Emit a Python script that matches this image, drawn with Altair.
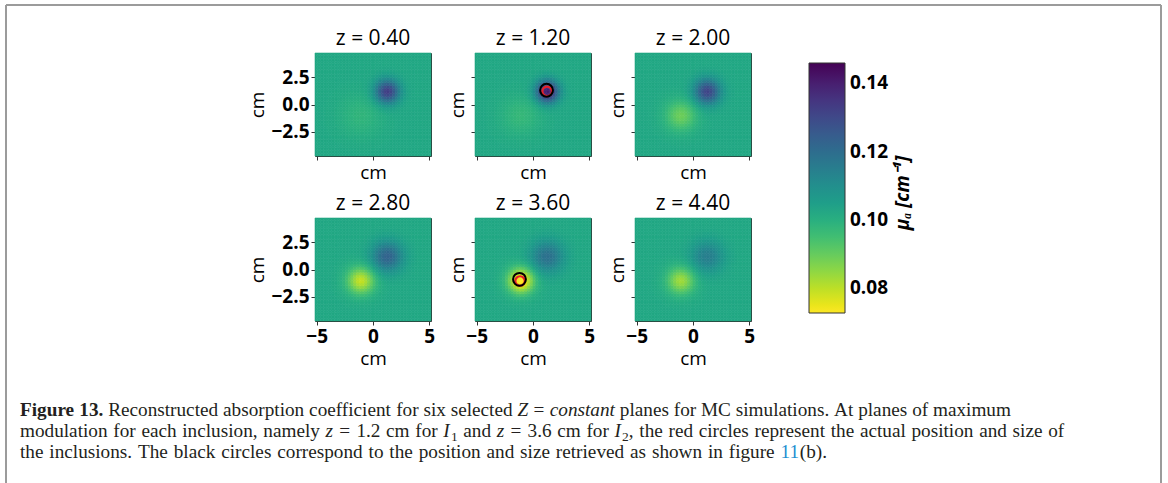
import altair as alt
import numpy as np
import pandas as pd

# ---------------- data ----------------
planes = ["z = 0.40", "z = 1.20", "z = 2.00", "z = 2.80", "z = 3.60", "z = 4.40"]
background_mua = 0.102
# inclusion I1 (absorbing, dark blob) and I2 (yellow blob) centres in cm
i1_x, i1_y = 1.3, 1.2
i2_x, i2_y = -1.05, -1.0
i1_peak = [0.133, 0.141, 0.131, 0.123, 0.119, 0.115]
i1_width = [0.75, 0.70, 0.80, 0.95, 1.00, 1.00]
i2_peak = [0.098, 0.097, 0.089, 0.079, 0.071, 0.083]
i2_width = [1.30, 1.20, 0.95, 0.85, 0.80, 0.85]

circle_plane = ["z = 1.20", "z = 1.20", "z = 3.60", "z = 3.60"]
circle_kind = ["actual", "retrieved", "actual", "retrieved"]
circle_x = [1.25, 1.20, -1.15, -1.20]
circle_y = [1.20, 1.30, -1.05, -0.90]

colorbar_ticks = [0.08, 0.10, 0.12, 0.14]
colorbar_title = "μₐ [cm⁻¹]"
x_ticks = [-5, 0, 5]
y_ticks = [-2.5, 0.0, 2.5]

# ---------------- build the reconstructed field ----------------
x_edges = np.linspace(-5.15, 5.15, 43)
y_edges = np.linspace(-4.7, 4.7, 39)
xc = (x_edges[:-1] + x_edges[1:]) / 2
yc = (y_edges[:-1] + y_edges[1:]) / 2
rows = []
for p, name in enumerate(planes):
    for ix in range(len(xc)):
        for iy in range(len(yc)):
            d1 = (xc[ix] - i1_x) ** 2 + (yc[iy] - i1_y) ** 2
            d2 = (xc[ix] - i2_x) ** 2 + (yc[iy] - i2_y) ** 2
            v = (background_mua
                 + (i1_peak[p] - background_mua) * np.exp(-d1 / (2 * i1_width[p] ** 2))
                 + (i2_peak[p] - background_mua) * np.exp(-d2 / (2 * i2_width[p] ** 2)))
            rows.append((name, x_edges[ix], x_edges[ix + 1], y_edges[iy], y_edges[iy + 1], v))
field = pd.DataFrame(rows, columns=["plane", "x0", "x1", "y0", "y1", "mua"])
circles = pd.DataFrame({"plane": circle_plane, "kind": circle_kind, "x": circle_x, "y": circle_y})

FONT = "Open Sans"
cscale = alt.Scale(scheme="viridis", reverse=True, domain=[0.0727, 0.146], clamp=True)
sscale = alt.Scale(scheme="viridis", reverse=True, domain=[0.0727, 0.146], clamp=True)
legend = alt.Legend(
    type="gradient", orient="none", legendX=494, legendY=10, direction="vertical",
    gradientLength=250, gradientThickness=36, values=colorbar_ticks, format=".2f",
    title=None,
    labelFont=FONT, labelFontSize=19, labelFontWeight="bold", labelColor="black",
    labelOffset=5, gradientStrokeColor="#333333", gradientStrokeWidth=1, padding=0,
)

xs = alt.Scale(domain=[-5.15, 5.15], nice=False, zero=False)
ys = alt.Scale(domain=[-4.7, 4.7], nice=False, zero=False)


def panel(i):
    r, c = divmod(i, 3)
    xaxis = alt.Axis(values=x_ticks, labels=(r == 1), title="cm", format="d")
    yaxis = alt.Axis(values=y_ticks, labels=(c == 0), title="cm", format=".1f")
    heat = alt.Chart(field).transform_filter(alt.datum.plane == planes[i]).mark_rect(strokeWidth=0.6).encode(
        x=alt.X("x0:Q", scale=xs, axis=xaxis),
        x2="x1:Q",
        y=alt.Y("y0:Q", scale=ys, axis=yaxis),
        y2="y1:Q",
        color=alt.Color("mua:Q", scale=cscale, legend=legend),
        stroke=alt.Stroke("mua:Q", scale=sscale, legend=None),
    )
    layers = [heat]
    if planes[i] in circle_plane:
        base = alt.Chart(circles).transform_filter(alt.datum.plane == planes[i])
        red = base.transform_filter(alt.datum.kind == "actual").mark_point(
            shape="circle", filled=False, color="#e8202a", strokeWidth=2.2, size=90, opacity=1
        ).encode(x=alt.X("x:Q", scale=xs), y=alt.Y("y:Q", scale=ys))
        black = base.transform_filter(alt.datum.kind == "retrieved").mark_point(
            shape="circle", filled=False, color="black", strokeWidth=2, size=165, opacity=1
        ).encode(x=alt.X("x:Q", scale=xs), y=alt.Y("y:Q", scale=ys))
        layers += [red, black]
    return alt.layer(*layers).properties(
        width=116, height=103,
        title=alt.TitleParams(planes[i], fontSize=21, font=FONT, fontWeight="normal", color="black", offset=4),
    )


# ---------------- caption (figure text) ----------------
caption_lines = [
    [("Figure 13.", "bold", 0), ("Reconstructed absorption coefficient for six selected", "reg", 0.25),
     ("Z", "ital", 0.25), ("=", "reg", 0.28), ("constant", "ital", 0.28),
     ("planes for MC simulations. At planes of maximum", "reg", 0.25)],
    [("modulation for each inclusion, namely", "reg", 0), ("z", "ital", 0.25), ("=", "reg", 0.28),
     ("1.2 cm for", "reg", 0.28), ("I", "ital", 0.25), ("1", "sub", 0.02), ("and", "reg", 0.25),
     ("z", "ital", 0.25), ("=", "reg", 0.28), ("3.6 cm for", "reg", 0.28), ("I", "ital", 0.25),
     ("2", "sub", 0.02), (", the red circles represent the actual position and size of", "reg", 0)],
    [("the inclusions. The black circles correspond to the position and size retrieved as shown in figure", "reg", 0),
     ("11", "blue", 0.25), ("(b).", "reg", 0)],
]
line_ends = [1011.0, 1065.0, 828.0]  # right end of each caption line in the picture

# Times-compatible advance widths (1/1000 em) used to chain the caption pieces
_reg = dict(zip("abcdefghijklmnopqrstuvwxyz",
                [444, 500, 444, 500, 444, 333, 500, 500, 278, 278, 500, 278, 778, 500, 500, 500, 500,
                 333, 389, 278, 500, 500, 722, 500, 500, 444]))
_reg.update(dict(zip("ABCDEFGHIJKLMNOPQRSTUVWXYZ",
                     [722, 667, 667, 722, 611, 556, 722, 722, 333, 389, 722, 611, 889, 722, 722, 556, 722,
                      667, 556, 611, 722, 722, 944, 722, 722, 611])))
_reg.update({" ": 250, ".": 250, ",": 250, "(": 333, ")": 333, "=": 564})
_reg.update({d: 500 for d in "0123456789"})
_bold = dict(_reg)
_bold.update({"F": 611, "u": 556, "r": 444, " ": 250})
_ital = dict(_reg)
_ital.update({"Z": 556, "z": 389, "I": 333, "a": 500, "n": 500})

CFONT = "Liberation Serif"


def units(text, style):
    tab = {"bold": _bold, "ital": _ital}.get(style, _reg)
    w = sum(tab.get(ch, 500) for ch in text) / 1000.0
    return w * (0.7 if style == "sub" else 1.0)


line1_units = sum(units(t, s) + sp for t, s, sp in caption_lines[0])
CSIZE = (line_ends[0] - 20) / line1_units

OX, OY = 315, 383  # origin of caption cell in page pixels
line_base = [416, 437, 458]
cap_rows = []
for li, segs in enumerate(caption_lines):
    natural = sum(units(t, s) + sp for t, s, sp in segs) * CSIZE
    n_words = sum(t.count(" ") for t, s, sp in segs) + len(segs) - 1
    extra = max(0.0, (line_ends[li] - 20 - natural) / max(n_words, 1))  # slightly looser word spacing
    cur = 20.0
    for t, s, sp in segs:
        if sp > 0:
            cur += sp * CSIZE + extra
        dy = 0.22 * CSIZE if s == "sub" else 0.0
        words = t.split(" ")
        for w in words:
            if w:
                cap_rows.append((w, s, cur - OX, line_base[li] + dy - OY))
                cur += units(w, s) * CSIZE
            cur += units(" ", s) * CSIZE + extra
        cur -= units(" ", s) * CSIZE + extra
cap = pd.DataFrame(cap_rows, columns=["t", "s", "px", "py"])


def cap_layer(style, **kw):
    kw.setdefault("fontSize", CSIZE)
    return alt.Chart(cap).transform_filter(alt.datum.s == style).mark_text(
        align="left", baseline="alphabetic", font=CFONT, **kw
    ).encode(x=alt.X("px:Q", scale=None), y=alt.Y("py:Q", scale=None), text="t:N")


frame_color = "#9b9b9b"
one = pd.DataFrame({"a": [0]})
top_line = alt.Chart(one).mark_rule(color=frame_color, strokeWidth=2).encode(
    x=alt.value(6 - OX), x2=alt.value(1161 - OX), y=alt.value(5 - OY))
left_line = alt.Chart(one).mark_rule(color=frame_color, strokeWidth=2).encode(
    x=alt.value(6 - OX), y=alt.value(5 - OY), y2=alt.value(483 - OY))
right_line = alt.Chart(one).mark_rule(color=frame_color, strokeWidth=2).encode(
    x=alt.value(1161 - OX), y=alt.value(5 - OY), y2=alt.value(483 - OY))
cbar_title = alt.Chart(pd.DataFrame({"t": [colorbar_title]})).mark_text(
    angle=270, font=FONT, fontSize=19, fontWeight="bold", fontStyle="italic", color="black",
    align="center", baseline="middle",
).encode(x=alt.value(903 - OX), y=alt.value(193 - OY), text="t:N")

TXT = "#231f20"
caption = alt.layer(
    top_line, left_line, right_line, cbar_title,
    cap_layer("reg", color=TXT),
    cap_layer("bold", color=TXT, fontWeight="bold"),
    cap_layer("ital", color=TXT, fontStyle="italic"),
    cap_layer("sub", color=TXT, fontSize=CSIZE * 0.7),
    cap_layer("blue", color="#1d8fd1"),
).properties(width=116, height=100, view=alt.ViewConfig(stroke="transparent", strokeWidth=0))

chart = alt.concat(
    *[panel(i) for i in range(6)], caption,
    columns=3, spacing={"row": 62, "column": 44}, bounds="flush",
).resolve_scale(color="shared", stroke="independent").resolve_legend(
    color="shared", stroke="independent"
).properties(
    padding={"left": 5, "top": 4, "right": 6, "bottom": 0},
).configure(background="white").configure_view(
    stroke="#2b2b2b", strokeWidth=1
).configure_axis(
    labelFont=FONT, labelFontSize=19, labelFontWeight="bold", labelColor="black",
    titleFont=FONT, titleFontSize=19, titleFontWeight="normal", titleColor="black",
    tickColor="#333333", tickSize=4, domain=False, grid=False, labelPadding=2, titlePadding=3,
)

chart.save("out.html", embed_options={"renderer": "svg", "actions": False})
